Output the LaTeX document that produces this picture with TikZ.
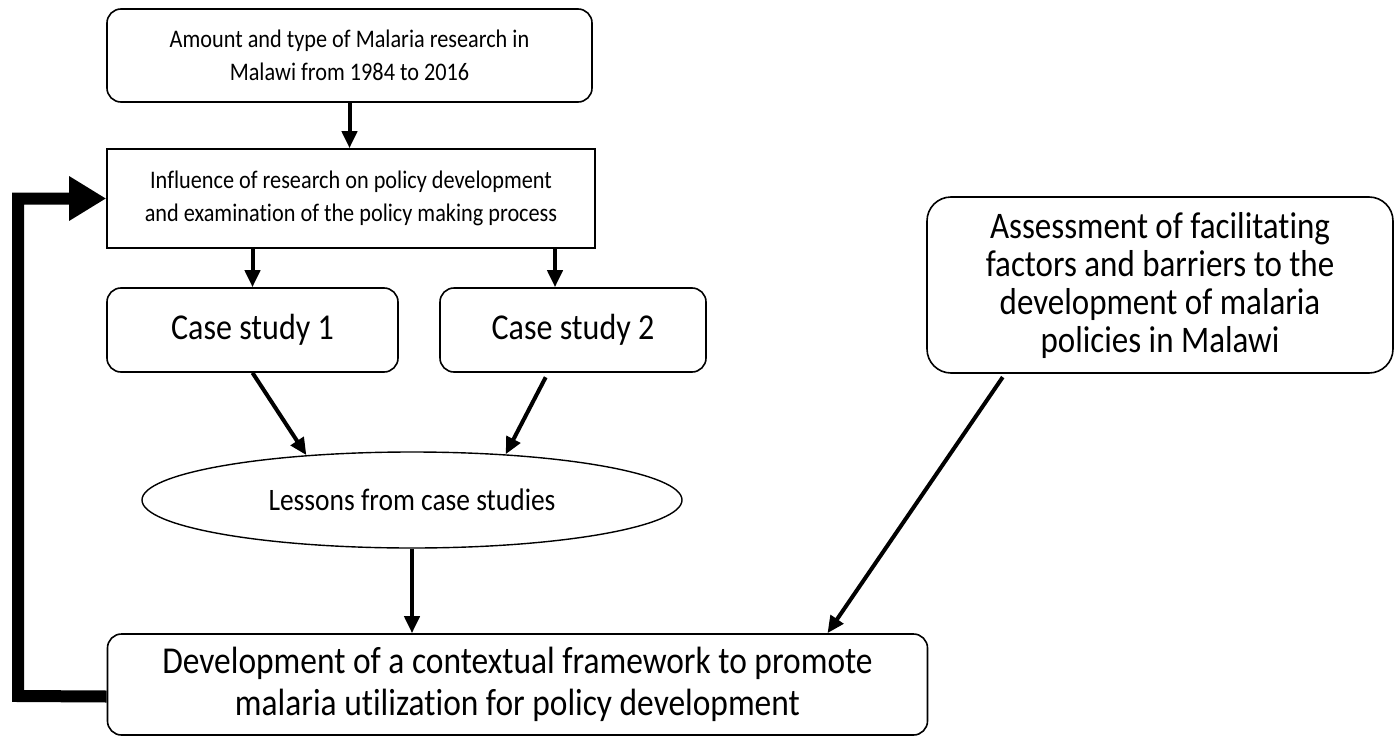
\documentclass[tikz,border=0pt]{standalone}
\usepackage{fontspec}
\setmainfont{Carlito}[Ligatures=NoCommon,FakeStretch=0.88]
\usetikzlibrary{shapes.geometric,arrows.meta}
\begin{document}
\begin{tikzpicture}[x=1pt,y=-1pt,
  every node/.style={inner sep=0pt,align=center},
  rbox/.style={draw,line width=1.6pt,rounded corners=14pt},
  sbox/.style={draw,line width=1.6pt},
  oval/.style={draw,ellipse,line width=1.4pt},
  arr/.style={line width=4pt,-{Triangle[length=17pt,width=15pt]}},
  fb/.style={line width=12pt,-{Triangle[length=37pt,width=42pt]}},
  small/.style={font=\fontsize{25.3}{33}\selectfont},
  mid/.style={font=\fontsize{36.4}{40}\selectfont},
  big/.style={font=\fontsize{38}{42}\selectfont},
  side/.style={font=\fontsize{37.5}{38}\selectfont}
]
\useasboundingbox (0,0) rectangle (1395,736);

% boxes
\node[rbox,small,minimum width=485pt,minimum height=93pt] (top) at (349.5,55.5)
  {Amount and type of Malaria research in\\Malawi from 1984 to 2016};
\node[sbox,small,minimum width=488pt,minimum height=99pt] (infl) at (351,198.5)
  {Influence of research on policy development\\and examination of the policy making process};
\node[rbox,mid,minimum width=291pt,minimum height=84pt] (cs1) at (252.5,330) {Case study 1};
\node[rbox,mid,minimum width=266pt,minimum height=84pt] (cs2) at (573,330) {Case study 2};
\node[oval,font=\fontsize{31.2}{34}\selectfont,minimum width=540pt,minimum height=96pt] (les) at (412,500)
  {Lessons from case studies};
\node[rbox,big,minimum width=820pt,minimum height=101pt] (dev) at (517.5,684.5)
  {Development of a contextual framework to promote\\malaria utilization for policy development};
\node[rbox,side,rounded corners=24pt,minimum width=466pt,minimum height=176pt] (ass) at (1160,285)
  {Assessment of facilitating\\factors and barriers to the\\development of malaria\\policies in Malawi};

% connectors
\draw[arr] (top.south) -- (infl.north -| top.south);
\draw[arr] (infl.south -| cs1.north) -- (cs1.north);
\draw[arr] ([xshift=-18pt]cs2.north |- infl.south) -- ([xshift=-18pt]cs2.north);
\draw[arr] (cs1.south) -- (les.157);
\draw[arr,shorten <=5pt] ([xshift=-25pt]cs2.south) -- (les.26);
\draw[arr] (les.south) -- (dev.north -| les.south);
\draw[arr,shorten <=4pt] ([xshift=-155pt]ass.south) -- ([xshift=310pt]dev.north);

% feedback loop
\coordinate (loop) at (18,696);
\draw[fb] ([yshift=-12pt]dev.west) -- (loop) |- (infl.west);
\end{tikzpicture}
\end{document}
